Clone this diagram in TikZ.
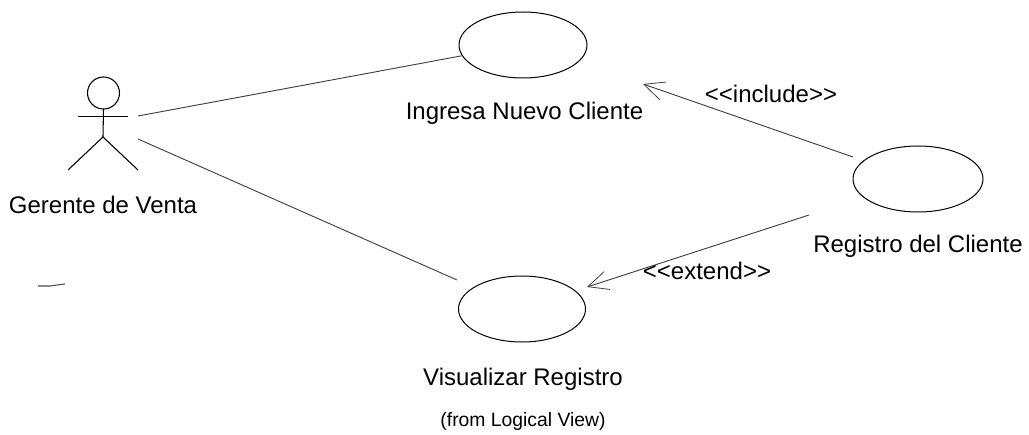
\documentclass[tikz,border=0pt]{standalone}
\usepackage{fontspec}
\setmainfont{Liberation Sans}
\usetikzlibrary{arrows.meta,shapes.geometric}
\tikzset{
  uc/.style={draw=black,ellipse,line width=0.75pt,inner sep=0pt,outer sep=0pt,minimum width=#1,minimum height=49.5pt},
  lbl/.style={font=\fontsize{18}{22}\selectfont,text=black,inner sep=0pt,anchor=base},
  rel/.style={line width=0.7pt,draw=black!75},
  dep/.style={rel,-{Straight Barb[length=15pt,width=14pt,line width=0.6pt]}},
  stick/.style={line width=0.8pt,draw=black}
}
\begin{document}
\begin{tikzpicture}[x=0.75pt,y=-0.75pt]
\useasboundingbox (0,0) rectangle (1029,435);
% use cases
\node[uc=96pt] (ucA) at (523,45) {};
\node[uc=97.5pt] (ucB) at (918,179) {};
\node[uc=95.25pt] (ucC) at (522,309) {};
% actor
\node[circle,draw=black,line width=0.8pt,minimum size=24pt,inner sep=0pt,outer sep=0pt] (head) at (103.5,93) {};
\coordinate (hip) at (103,137);
\coordinate (armL) at (78,116.5);
\coordinate (armR) at (128,116.5);
\coordinate (footL) at (68,170);
\coordinate (footR) at (138,170);
\draw[stick] (head.south) -- (hip);
\draw[stick] (armL) -- (armR);
\draw[stick] (footL) -- (hip) -- (footR);
% connector ends
\coordinate (actA) at (138,116);
\coordinate (actB) at (138,139);
\coordinate (endC) at (457,280);
\coordinate (inclS) at (853,157);
\coordinate (inclT) at (643,84);
\coordinate (extS) at (809,215);
\coordinate (extT) at (587,287);
\draw[rel] (actA) -- (ucA.190);
\draw[rel] (actB) -- (endC);
\draw[dep] (inclS) -- (inclT);
\draw[dep] (extS) -- (extT);
% labels
\node[lbl] (lblActor) at (103,213) {Gerente de Venta};
\node[lbl] (lblA) at (524.5,120) {Ingresa Nuevo Cliente};
\node[lbl] (lblB) at (918,252) {Registro del Cliente};
\node[lbl] (lblC) at (523,385) {Visualizar Registro};
\node[lbl,font=\fontsize{14.5}{18}\selectfont] (lblFrom) at (523,426) {(from Logical View)};
\node[lbl] (lblIncl) at (771,103) {<{}<include>{}>};
\node[lbl] (lblExt) at (707,279) {<{}<extend>{}>};
% scan speck
\draw[line width=0.8pt,black!70] (38,286) -- (50,286) -- (65,284);
\end{tikzpicture}
\end{document}
